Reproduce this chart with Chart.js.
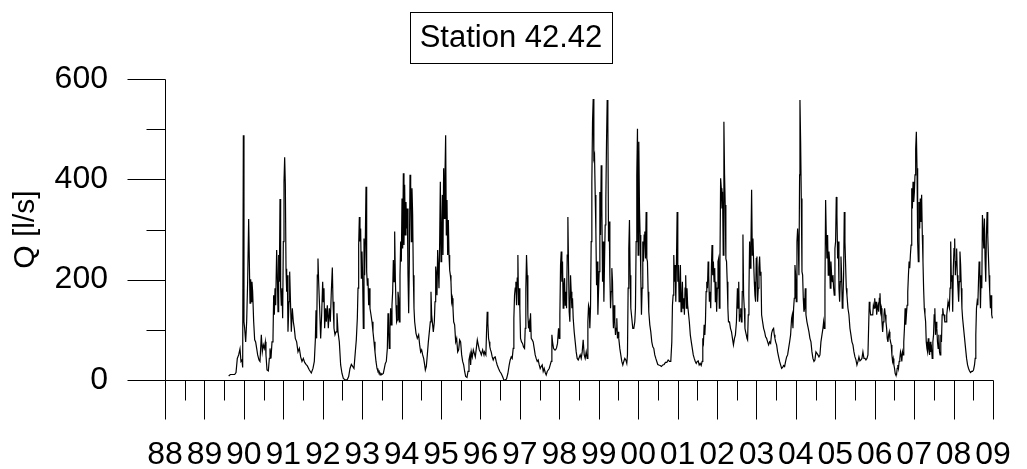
<!DOCTYPE html>
<html><head><meta charset="utf-8">
<script src="https://cdn.jsdelivr.net/npm/chart.js@4.4.1/dist/chart.umd.min.js"></script>
<style>html,body{margin:0;padding:0;background:#fff;overflow:hidden}canvas{display:block}</style>
</head><body>
<canvas id="c" width="1027" height="469"></canvas>
<script>
const chartTitle = 'Station 42.42';
const yAxisTitle = 'Q [l/s]';
const yearLabels = ['88','89','90','91','92','93','94','95','96','97','98','99','00','01','02','03','04','05','06','07','08','09'];
const firstYear = 1988;
const lastYear = 2009;

// decimal years of the record
const dates = [
1989.615,1989.657,1989.767,1989.801,1989.834,1989.868,1989.902,1989.927,1989.953,1989.970,
1989.987,1990.003,1990.020,1990.046,1990.071,1990.096,1990.122,1990.139,1990.156,1990.173,
1990.189,1990.206,1990.223,1990.249,1990.274,1990.299,1990.325,1990.350,1990.384,1990.409,
1990.443,1990.468,1990.494,1990.519,1990.545,1990.561,1990.587,1990.621,1990.646,1990.663,
1990.688,1990.714,1990.739,1990.756,1990.773,1990.790,1990.807,1990.832,1990.849,1990.866,
1990.883,1990.900,1990.917,1990.933,1990.950,1990.967,1990.984,1991.001,1991.018,1991.035,
1991.052,1991.069,1991.086,1991.103,1991.119,1991.145,1991.162,1991.187,1991.204,1991.229,
1991.255,1991.280,1991.305,1991.339,1991.373,1991.407,1991.441,1991.474,1991.508,1991.542,
1991.576,1991.610,1991.661,1991.711,1991.753,1991.787,1991.813,1991.830,1991.846,1991.863,
1991.880,1991.897,1991.922,1991.948,1991.973,1991.999,1992.015,1992.032,1992.049,1992.075,
1992.092,1992.117,1992.142,1992.168,1992.193,1992.218,1992.244,1992.261,1992.286,1992.311,
1992.337,1992.362,1992.388,1992.421,1992.455,1992.489,1992.523,1992.574,1992.624,1992.658,
1992.692,1992.726,1992.760,1992.793,
1992.827,1992.852,1992.878,1992.895,1992.912,1992.929,1992.945,1992.962,1992.979,1992.996,
1993.013,1993.030,1993.047,1993.064,1993.081,1993.098,1993.115,1993.132,1993.148,1993.165,
1993.182,1993.199,1993.224,1993.250,1993.275,1993.301,1993.326,1993.351,1993.377,1993.402,
1993.427,1993.453,1993.478,1993.503,1993.537,1993.563,1993.588,1993.613,1993.639,1993.656,
1993.673,1993.689,1993.706,1993.723,1993.740,1993.757,1993.774,1993.791,1993.808,1993.825,
1993.842,1993.859,1993.875,1993.892,1993.909,1993.926,1993.943,1993.960,1993.977,1993.994,
1994.011,1994.028,1994.045,1994.061,1994.078,1994.095,1994.112,1994.129,1994.146,1994.163,
1994.180,1994.197,1994.214,1994.231,1994.248,1994.264,1994.281,1994.298,1994.315,1994.332,
1994.366,1994.399,1994.433,1994.459,1994.484,1994.509,1994.535,1994.560,1994.586,1994.603,
1994.628,1994.653,1994.679,1994.704,1994.729,1994.746,1994.763,1994.780,1994.805,1994.831,
1994.848,1994.865,1994.882,1994.898,1994.915,1994.932,1994.949,1994.966,1994.983,1995.000,
1995.017,1995.034,1995.050,1995.067,1995.084,1995.101,1995.118,1995.135,1995.152,1995.169,
1995.186,1995.203,1995.220,1995.237,1995.253,1995.270,1995.287,1995.304,1995.321,1995.346,
1995.372,1995.397,1995.423,1995.448,1995.473,1995.498,1995.524,1995.549,1995.575,1995.600,
1995.625,1995.659,1995.685,1995.710,1995.735,1995.752,1995.769,1995.794,1995.820,1995.845,
1995.870,1995.896,1995.921,1995.946,1995.972,1995.997,1996.023,1996.056,1996.090,
1996.104,1996.138,1996.155,1996.172,1996.189,1996.206,1996.223,1996.239,1996.256,1996.273,
1996.299,1996.324,1996.349,1996.375,1996.400,1996.425,1996.459,1996.493,1996.527,1996.561,
1996.595,1996.628,1996.662,1996.696,1996.730,1996.755,1996.781,1996.806,1996.831,1996.848,
1996.865,1996.882,1996.899,1996.916,1996.933,1996.950,1996.966,1996.983,1997.000,1997.017,
1997.043,1997.068,1997.093,1997.119,1997.136,1997.152,1997.169,1997.186,1997.203,1997.220,
1997.237,1997.254,1997.271,1997.288,1997.313,1997.338,1997.364,1997.389,1997.414,1997.440,
1997.465,1997.491,1997.516,1997.541,1997.567,1997.592,1997.617,1997.643,1997.668,1997.694,
1997.719,1997.744,1997.770,1997.795,1997.812,1997.829,1997.854,1997.880,1997.905,1997.930,
1997.955,1997.981,1997.998,1998.015,1998.032,1998.049,1998.065,1998.082,1998.099,1998.116,
1998.133,1998.150,1998.167,1998.184,1998.201,1998.218,1998.235,1998.251,1998.268,1998.285,
1998.302,1998.319,1998.336,1998.353,1998.378,1998.404,1998.429,1998.454,1998.480,1998.505,
1998.530,1998.556,1998.581,1998.606,1998.632,1998.657,1998.683,1998.708,1998.725,1998.742,
1998.759,1998.775,1998.792,1998.809,1998.826,1998.843,1998.860,1998.877,1998.894,1998.911,
1998.928,1998.945,1998.962,1998.979,1998.995,1999.012,1999.029,1999.046,1999.063,1999.080,
1999.097,1999.114,1999.131,1999.148,1999.164,1999.181,1999.198,1999.215,1999.232,1999.249,
1999.266,1999.283,1999.300,1999.317,1999.333,1999.350,1999.367,
1999.374,1999.391,1999.408,1999.425,1999.442,1999.459,1999.476,1999.492,1999.509,1999.535,
1999.560,1999.585,1999.611,1999.636,1999.662,1999.687,1999.712,1999.729,1999.746,1999.763,
1999.780,1999.797,1999.814,1999.839,1999.864,1999.890,1999.915,1999.932,1999.949,1999.966,
1999.983,2000.000,2000.017,2000.034,2000.050,2000.067,2000.084,2000.101,2000.118,2000.135,
2000.152,2000.169,2000.186,2000.203,2000.220,2000.236,2000.253,2000.270,2000.296,2000.321,
2000.346,2000.372,2000.397,2000.422,2000.448,2000.473,2000.498,2000.524,2000.558,2000.591,
2000.625,2000.659,2000.693,2000.727,2000.761,2000.794,2000.828,2000.854,2000.870,2000.887,
2000.904,2000.921,2000.938,2000.955,2000.972,2000.989,2001.006,2001.023,2001.039,2001.055,
2001.072,2001.089,2001.106,2001.122,2001.139,2001.156,2001.173,2001.190,2001.206,2001.223,
2001.239,2001.256,2001.273,2001.298,2001.323,2001.348,2001.373,2001.398,2001.423,2001.449,
2001.473,2001.498,2001.524,2001.548,2001.574,2001.599,2001.623,2001.640,2001.657,2001.674,
2001.691,2001.707,2001.724,2001.741,2001.758,2001.775,2001.790,2001.807,2001.824,2001.841,
2001.858,2001.874,2001.891,2001.908,2001.925,2001.942,2001.958,2001.974,2001.991,2002.008,
2002.025,2002.041,2002.058,2002.075,2002.092,2002.109,2002.125,2002.141,2002.158,2002.175,
2002.192,2002.208,2002.225,2002.242,2002.259,2002.276,2002.291,2002.317,2002.342,2002.368,
2002.392,2002.417,2002.443,2002.467,2002.493,2002.518,2002.535,2002.551,2002.568,2002.585,
2002.602,2002.619,2002.634,
2002.641,2002.658,2002.675,2002.692,2002.709,2002.726,2002.743,2002.760,2002.776,2002.793,
2002.810,2002.827,2002.844,2002.861,2002.878,2002.895,2002.912,2002.929,2002.946,2002.962,
2002.979,2002.996,2003.013,2003.030,2003.047,2003.064,2003.081,2003.098,2003.115,2003.131,
2003.157,2003.182,2003.208,2003.233,2003.258,2003.284,2003.309,2003.334,2003.360,2003.385,
2003.410,2003.436,2003.453,2003.470,2003.487,2003.512,2003.537,2003.563,2003.588,2003.613,
2003.639,2003.664,2003.689,2003.715,2003.740,2003.766,2003.791,2003.816,2003.842,2003.867,
2003.892,2003.909,2003.926,2003.943,2003.960,2003.977,2003.994,2004.011,2004.028,2004.045,
2004.061,2004.078,2004.095,2004.104,2004.121,2004.138,2004.155,2004.172,2004.188,2004.205,
2004.222,2004.239,2004.256,2004.281,2004.307,2004.332,2004.357,2004.383,2004.408,2004.433,
2004.459,2004.484,2004.509,2004.535,2004.560,2004.586,2004.611,2004.636,2004.662,2004.687,
2004.704,2004.721,2004.738,2004.755,2004.771,2004.788,2004.805,2004.822,2004.839,2004.856,
2004.873,2004.890,2004.907,2004.924,2004.941,2004.958,2004.974,2004.991,2005.008,2005.025,
2005.042,2005.059,2005.076,2005.093,2005.110,2005.127,2005.144,2005.161,2005.177,2005.194,
2005.211,2005.228,2005.245,2005.262,2005.279,2005.296,2005.321,2005.346,2005.372,2005.397,
2005.422,2005.448,2005.473,2005.499,2005.524,2005.549,2005.575,2005.600,2005.625,2005.651,
2005.676,2005.701,2005.727,2005.752,2005.777,2005.803,2005.828,2005.845,2005.862,2005.879,
2005.896,2005.921,
2005.950,2005.966,2005.983,2006.000,2006.017,2006.034,2006.050,2006.067,2006.084,2006.101,
2006.117,2006.134,2006.151,2006.168,2006.184,2006.201,2006.218,2006.235,2006.251,2006.268,
2006.285,2006.302,2006.318,2006.335,2006.352,2006.369,2006.385,2006.402,2006.419,2006.436,
2006.453,2006.469,2006.486,2006.503,2006.520,2006.536,2006.553,2006.570,2006.587,2006.603,
2006.620,2006.637,2006.654,2006.670,2006.687,2006.704,2006.721,2006.737,2006.754,2006.771,
2006.788,2006.804,2006.821,2006.838,2006.855,2006.872,2006.888,2006.905,2006.922,2006.939,
2006.955,2006.972,2006.989,2007.006,2007.022,2007.039,2007.056,2007.073,2007.089,2007.106,
2007.123,2007.140,2007.156,2007.173,2007.190,2007.207,2007.224,2007.240,2007.257,2007.274,
2007.291,2007.307,2007.324,2007.341,2007.358,2007.374,2007.391,2007.408,2007.425,2007.441,
2007.458,2007.475,2007.492,2007.508,2007.525,2007.542,2007.559,2007.575,2007.592,2007.609,
2007.626,2007.643,2007.659,2007.676,2007.693,2007.710,2007.726,2007.743,2007.760,2007.777,
2007.793,2007.810,2007.827,2007.844,2007.860,2007.877,2007.894,2007.911,2007.927,2007.944,
2007.961,2007.978,2007.994,2008.011,2008.028,2008.045,2008.062,2008.078,2008.095,2008.112,
2008.129,2008.145,2008.162,2008.179,2008.196,2008.212,2008.229,2008.254,2008.279,2008.304,
2008.330,2008.355,2008.380,2008.405,2008.430,2008.455,2008.480,2008.506,2008.531,2008.548,
2008.564,2008.581,2008.598,2008.615,2008.632,2008.648,2008.665,2008.682,2008.699,2008.716,
2008.732,2008.749,2008.766,2008.782,2008.799,2008.816,2008.833,2008.850,2008.867,2008.883,
2008.900,2008.917,2008.934,2008.950,2008.967,2008.984
];

// discharge Q in l/s, one value per date above
const flowLs = [
8,11,11,15,43,50,62,37,40,25,
488,116,103,76,116,196,321,236,153,201,
156,196,176,116,80,76,63,50,40,37,
90,56,70,63,76,50,20,18,43,63,
43,76,83,169,130,183,149,259,209,136,
249,196,361,183,149,183,123,276,395,444,
389,222,176,209,96,156,216,143,96,143,
116,103,83,76,56,63,46,37,43,35,
31,28,20,14,23,37,80,139,83,209,
242,196,143,83,130,196,156,183,103,143,
116,149,103,143,116,176,224,156,103,90,
96,133,96,76,30,13,3,0,1,7,
23,31,27,23,
56,80,123,183,269,325,276,302,203,256,
203,103,282,209,282,385,216,189,203,149,
183,143,130,116,96,76,56,37,23,17,
18,10,13,11,13,23,33,37,63,133,
96,63,103,143,110,149,176,239,196,296,
203,149,116,120,176,163,116,209,276,236,
362,262,412,269,389,289,355,302,342,209,
133,236,409,389,276,382,329,209,143,116,
93,83,90,70,56,60,50,43,30,20,
27,50,76,96,116,176,130,116,96,116,
156,226,209,169,259,223,183,276,395,236,
289,369,249,422,322,409,488,289,359,249,
319,249,219,209,196,156,163,143,116,110,
76,83,56,60,80,76,50,37,30,17,
7,5,17,40,50,30,56,46,60,53,
46,63,80,70,60,56,50,60,50,
56,50,96,136,113,83,76,66,60,56,
46,40,45,46,37,30,23,17,13,7,
0,0,2,13,30,40,46,43,63,123,
169,183,196,149,203,249,149,183,143,83,
76,73,66,63,103,183,249,209,130,103,
113,96,133,83,80,76,63,50,43,37,
40,30,23,27,30,17,23,15,10,17,
20,23,30,37,90,76,63,60,60,64,
73,103,83,130,229,256,196,236,143,189,
203,149,176,143,249,325,223,136,116,209,
176,143,163,123,96,76,56,43,40,45,
50,43,56,80,50,43,56,43,116,149,
143,103,143,276,395,515,560,442,448,369,
296,189,236,130,176,216,375,289,428,342,
196,276,156,236,309,362,475,558,508,276,
316,209,143,176,223,196,116,
103,149,116,90,103,123,83,96,83,63,
50,37,30,37,43,40,33,50,183,262,
319,209,143,123,103,103,116,143,276,409,
501,249,475,342,289,209,130,183,276,236,
289,296,242,335,242,236,176,136,110,96,
76,66,63,50,43,37,31,30,29,27,
30,31,35,35,40,37,37,76,149,169,
249,196,229,156,236,335,196,229,156,169,
229,136,156,196,143,163,130,183,209,143,
183,149,136,116,90,76,63,50,43,37,
33,37,38,30,33,29,37,83,76,110,
90,116,176,196,183,236,209,156,176,143,
223,269,209,236,196,223,156,196,136,183,
236,242,143,236,402,382,342,375,249,515,
409,349,242,236,196,143,116,116,103,96,
83,70,83,90,116,183,143,196,116,130,
143,116,143,
176,290,169,143,103,96,90,83,80,130,
176,276,223,269,379,249,282,236,196,169,
156,242,246,156,183,223,246,209,216,130,
116,103,96,86,83,76,70,76,73,93,
100,103,90,83,76,70,56,46,37,30,
23,25,29,27,37,46,50,63,76,90,
123,130,103,143,163,229,209,156,276,302,
276,209,409,558,475,362,216,209,163,136,
143,183,130,116,106,96,83,76,56,43,
37,40,56,53,50,46,50,76,90,103,
116,103,183,359,289,242,289,209,256,236,
183,236,209,196,209,183,169,262,276,365,
329,242,276,183,156,196,246,209,143,156,
209,335,276,229,183,169,143,130,103,90,
76,70,56,46,40,30,37,46,38,40,
43,56,43,43,40,43,50,103,156,143,
130,130,
130,149,143,163,143,156,130,143,149,136,
163,173,136,143,116,96,116,130,143,130,
116,103,83,76,90,96,83,76,70,50,
37,43,30,23,13,10,10,23,30,23,
37,43,56,50,37,56,50,76,103,143,
110,130,149,176,209,236,223,249,269,382,
342,395,355,375,409,461,495,422,276,236,
355,302,362,315,369,289,236,183,143,130,
116,76,63,56,83,63,50,76,56,63,
43,76,90,130,143,90,116,103,76,63,
90,56,50,90,76,130,143,130,130,116,
116,116,130,143,156,149,143,183,276,196,
209,136,223,262,282,209,236,262,209,183,
156,196,256,229,183,143,123,103,83,63,
43,30,23,18,15,17,17,20,30,43,
90,143,156,149,196,236,223,143,209,183,
329,296,262,322,242,196,289,335,289,249,
209,176,143,169,130,123
];

const FONT = '"Liberation Sans", Arial, Helvetica, sans-serif';

const axesPlugin = {
  id: 'axesPlugin',
  afterDraw(chart) {
    const ctx = chart.ctx, xs = chart.scales.x, ys = chart.scales.y;
    const ax = Math.round(xs.left) + 0.5;
    const by = Math.round(ys.bottom) + 0.5;
    const ty = Math.round(ys.top) + 0.5;
    const rx = Math.round(xs.right) + 0.5;
    ctx.save();
    ctx.strokeStyle = '#000';
    ctx.lineWidth = 1;
    ctx.beginPath();
    ctx.moveTo(ax, ty); ctx.lineTo(ax, by);
    ctx.moveTo(ax, by); ctx.lineTo(rx, by);
    for (let v = ys.min; v <= ys.max; v += 100) {
      const y = Math.round(ys.getPixelForValue(v)) + 0.5;
      const len = (v % 200 === 0) ? 38 : 19;
      ctx.moveTo(ax - len, y); ctx.lineTo(ax, y);
    }
    for (let k = 0; k <= (xs.max - xs.min) * 2; k++) {
      const t = xs.min + k / 2;
      const x = Math.round(xs.getPixelForValue(t)) + 0.5;
      const len = (k % 2 === 0) ? 39 : 20;
      ctx.moveTo(x, by); ctx.lineTo(x, by + len);
    }
    ctx.stroke();
    // boxed title
    ctx.font = '31px ' + FONT;
    ctx.fillStyle = '#000';
    ctx.textAlign = 'center';
    ctx.textBaseline = 'middle';
    const cx = 511, cy = 38;
    const w = ctx.measureText(chartTitle).width;
    ctx.fillText(chartTitle, cx, cy);
    const bl = Math.round(cx - w / 2 - 9.5) + 0.5;
    const bw = Math.round(w + 19);
    ctx.strokeRect(bl, 12.5, bw, 51);
    ctx.restore();
  }
};

const points = dates.map((d, i) => ({ x: d, y: flowLs[i] }));

new Chart(document.getElementById('c').getContext('2d'), {
  type: 'line',
  data: {
    datasets: [{
      data: points,
      borderColor: '#000',
      borderWidth: 1.2,
      pointRadius: 0,
      tension: 0,
      fill: false
    }]
  },
  options: {
    responsive: false,
    animation: false,
    devicePixelRatio: 1,
    layout: { padding: { top: 79, right: 34, bottom: 0, left: 0 } },
    plugins: { legend: { display: false }, title: { display: false }, tooltip: { enabled: false } },
    scales: {
      x: {
        type: 'linear', min: firstYear, max: lastYear,
        grid: { display: false, drawTicks: false },
        border: { display: false },
        ticks: {
          stepSize: 1, autoSkip: false, maxRotation: 0, minRotation: 0,
          padding: 56, color: '#000', font: { size: 32, family: FONT },
          callback: (v) => yearLabels[Math.round(v - firstYear)] ?? ''
        },
        afterFit: (s) => { s.height = 89; s.paddingLeft = 0; s.paddingRight = 0; }
      },
      y: {
        min: 0, max: 600,
        grid: { display: false, drawTicks: false },
        border: { display: false },
        ticks: { stepSize: 200, padding: 57, color: '#000', font: { size: 32, family: FONT } },
        title: { display: true, text: yAxisTitle, color: '#000', font: { size: 30, family: FONT }, padding: { top: 8, bottom: 0 } },
        afterFit: (s) => { s.width = 165; }
      }
    }
  },
  plugins: [axesPlugin]
});
</script>
</body></html>
